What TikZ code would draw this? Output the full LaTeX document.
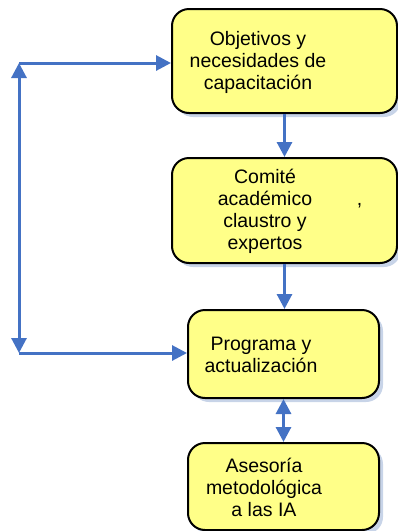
\documentclass[tikz,border=0pt]{standalone}
\usepackage{fontspec}
\setmainfont{Liberation Sans}
\usetikzlibrary{arrows.meta,shadows}

\definecolor{relleno}{RGB}{255,255,136}
\definecolor{azul}{RGB}{68,114,196}
\definecolor{sombra}{RGB}{200,212,232}

\begin{document}
\begin{tikzpicture}[x=1pt,y=-1pt,
	caja/.style={draw=black,line width=2pt,rounded corners=17pt,fill=relleno,
		drop shadow={shadow xshift=4pt,shadow yshift=-4pt,fill=sombra,opacity=1}},
	texto/.style={align=center,font=\fontsize{19.5}{22}\selectfont,inner sep=0pt},
	flecha/.style={draw=azul,line width=3pt},
	>={Triangle[length=15pt,width=15pt]}]
	
	\useasboundingbox (0,0) rectangle (398,531);
	
	% cajas
	\node[caja,minimum width=225pt,minimum height=104pt] (obj) at (284.5,61) {};
	\node[caja,minimum width=225pt,minimum height=105pt] (com) at (284.5,210.5) {};
	\node[caja,minimum width=191pt,minimum height=88pt] (prog) at (283.5,354) {};
	\node[caja,minimum width=191pt,minimum height=87pt] (ase) at (283.5,486.5) {};
	
	\node[texto] (objt) at (258,62) {Objetivos y\\necesidades de\\capacitación};
	\node[texto] (comt) at (265,211) {Comité\\académico\rlap{\hspace{2.3em},}\\claustro y\\expertos};
	\node[texto] (progt) at (261,355) {Programa y\\actualización};
	\node[texto] (aset) at (264,487) {Asesoría\\metodológica\\a las IA};
	
	% flechas
	\coordinate (arriba) at (19,63);
	\coordinate (abajo) at (19,353);
	
	\draw[flecha,->] (obj.south) -- (com.north);
	\draw[flecha,->] (com.south) -- (com.south |- prog.north);
	\draw[flecha,<->] (prog.south) -- (ase.north);
	
	\draw[flecha,->] (arriba) -- (obj.west |- arriba);
	\draw[flecha,->] (abajo) -- (prog.west |- abajo);
	\draw[flecha,<->] (arriba) -- (abajo);
\end{tikzpicture}
\end{document}
